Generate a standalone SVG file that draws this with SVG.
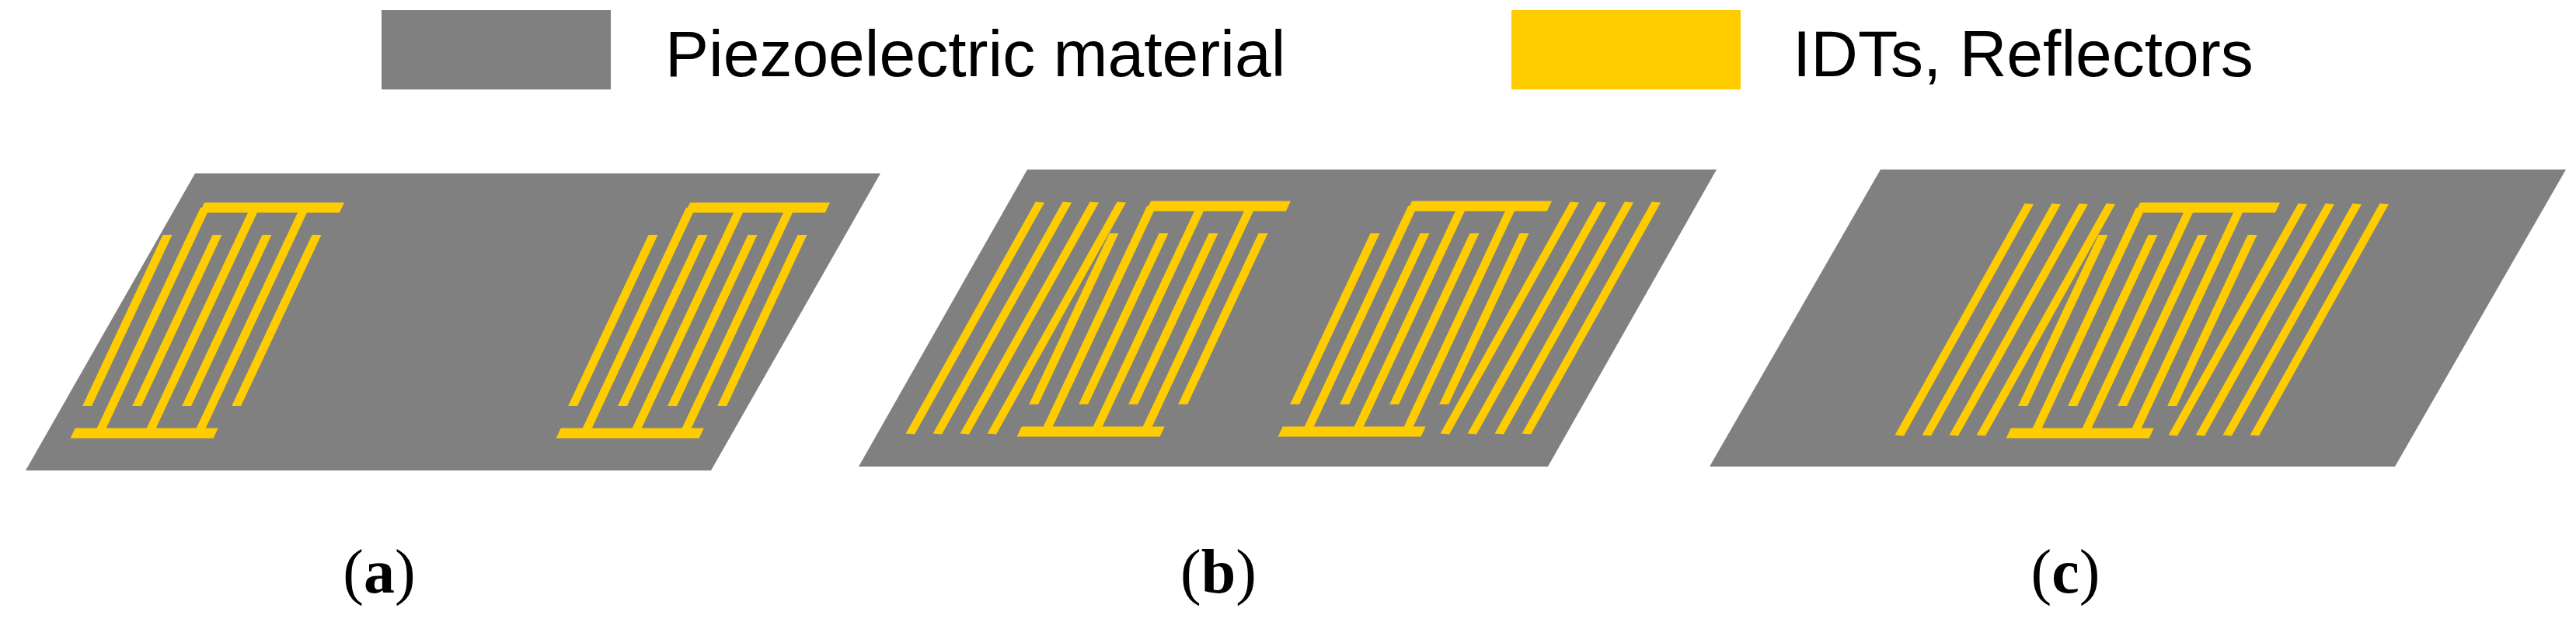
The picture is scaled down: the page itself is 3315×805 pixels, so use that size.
<svg xmlns="http://www.w3.org/2000/svg" xmlns:xlink="http://www.w3.org/1999/xlink" width="3315" height="805" viewBox="0 0 3315 805">
<style>
.sub{fill:#808080}
.y{stroke:#FFCC00;stroke-width:12;fill:none}
.bus{fill:#FFCC00}
.leg{font-family:"Liberation Sans",Arial,sans-serif;font-size:84px;fill:#000}
.lab{font-family:"Liberation Serif","Times New Roman",serif;font-size:80px;fill:#000}
</style>
<defs>
<g id="idt">
<rect class="bus" x="-4" y="-6.5" width="180" height="13"/>
<rect class="bus" x="-34" y="283.5" width="184" height="13"/>
<path class="y" d="M0,0V290M64,0V290M128,0V290M-32,35V255M32,35V255M96,35V255M160,35V255"/>
</g>
<g id="reflL"><path class="y" d="M-146,-5L-173,293M-111,-5L-138,293M-76,-5L-103,293M-41,-5L-68,293"/></g>
<g id="reflR"><path class="y" d="M206,-5L179,293M241,-5L214,293M276,-5L249,293M311,-5L284,293"/></g>
</defs>
<g id="legend">
<rect class="sub" x="491" y="13" width="295" height="102"/>
<text class="leg" x="856" y="98">Piezoelectric material</text>
<rect class="bus" x="1945" y="13" width="295" height="102"/>
<text class="leg" x="2307" y="98">IDTs, Reflectors</text>
</g>
<g id="panel-a">
<polygon class="sub" points="251,223 1133,223 915,605 33,605"/>
<use xlink:href="#idt" transform="matrix(1,0,-0.47,1,264,267)"/>
<use xlink:href="#idt" transform="matrix(1,0,-0.47,1,889,267)"/>
<text class="lab" x="488" y="762" text-anchor="middle">(<tspan font-weight="bold">a</tspan>)</text>
</g>
<g id="panel-b">
<polygon class="sub" points="1322,218 2209,218 1992,600 1105,600"/>
<g transform="matrix(1,0,-0.47,1,1482,265)"><use xlink:href="#idt"/><use xlink:href="#reflL"/></g>
<g transform="matrix(1,0,-0.47,1,1818,265)"><use xlink:href="#idt"/><use xlink:href="#reflR"/></g>
<text class="lab" x="1568" y="762" text-anchor="middle">(<tspan font-weight="bold">b</tspan>)</text>
</g>
<g id="panel-c">
<polygon class="sub" points="2420,218 3302,218 3082,600 2200,600"/>
<g transform="matrix(1,0,-0.47,1,2755,267)"><use xlink:href="#idt"/><use xlink:href="#reflL"/><use xlink:href="#reflR"/></g>
<text class="lab" x="2658" y="762" text-anchor="middle">(<tspan font-weight="bold">c</tspan>)</text>
</g>
<g id="connectors"/>
</svg>
